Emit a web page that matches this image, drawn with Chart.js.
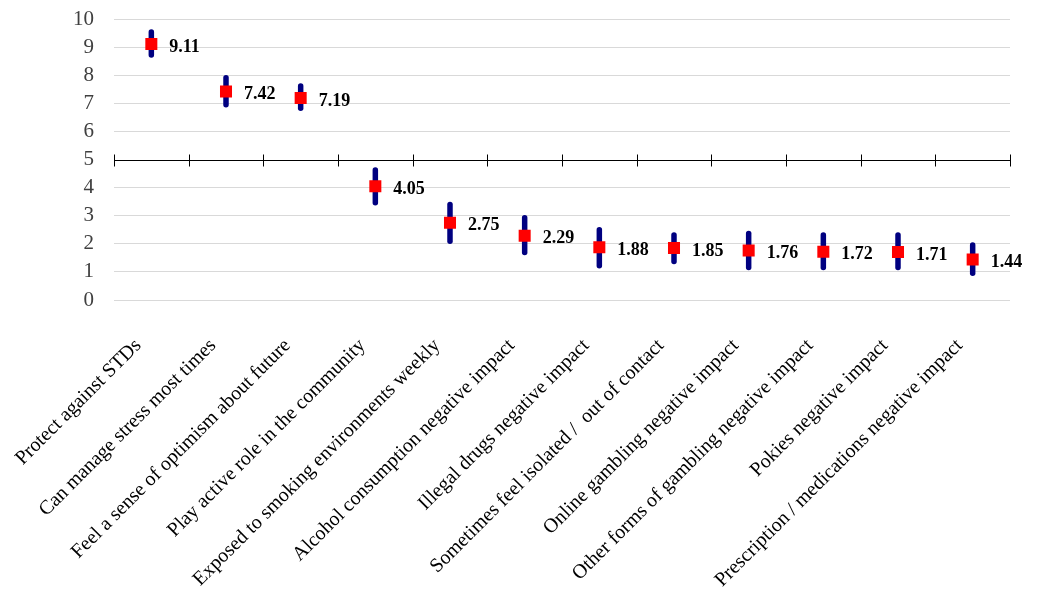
<!DOCTYPE html>
<html>
<head>
<meta charset="utf-8">
<script src="https://cdn.jsdelivr.net/npm/chart.js@4/dist/chart.umd.min.js"></script>
<style>
  html, body { margin: 0; padding: 0; background: #fff; }
  #wrap { width: 1042px; height: 598px; }
</style>
</head>
<body>
<div id="wrap"><canvas id="chart_scores"></canvas></div>
<script>
// categories and values
var categories = [
  'Protect against STDs',
  'Can manage stress most times',
  'Feel a sense of optimism about future',
  'Play active role in the community',
  'Exposed to smoking environments weekly',
  'Alcohol consumption negative impact',
  'Illegal drugs negative impact',
  'Sometimes feel isolated /  out of contact',
  'Online gambling negative impact',
  'Other forms of gambling negative impact',
  'Pokies negative impact',
  'Prescription / medications negative impact'
]
var means = [9.11, 7.42, 7.19, 4.05, 2.75, 2.29, 1.88, 1.85, 1.76, 1.72, 1.71, 1.44]
var lower = [8.72, 6.95, 6.82, 3.46, 2.09, 1.69, 1.22, 1.37, 1.16, 1.16, 1.16, 0.95]
var upper = [9.54, 7.91, 7.62, 4.63, 3.40, 2.93, 2.50, 2.31, 2.37, 2.31, 2.31, 1.96]
var yTicks = [0, 1, 2, 3, 4, 5, 6, 7, 8, 9, 10]
var midLine = 5

var serif = "'Liberation Serif', 'DejaVu Serif', serif"

// error bars under the squares, axis at 5 and value labels on top
var errorBars = {
  id: 'errorBars',
  beforeDatasetsDraw: function (chart) {
    var ctx = chart.ctx, x = chart.scales.x, y = chart.scales.y
    ctx.save()
    ctx.strokeStyle = '#000080'
    ctx.lineWidth = 5.5
    ctx.lineCap = 'round'
    means.forEach(function (m, i) {
      var px = x.getPixelForValue(i)
      ctx.beginPath()
      ctx.moveTo(px, y.getPixelForValue(lower[i]))
      ctx.lineTo(px, y.getPixelForValue(upper[i]))
      ctx.stroke()
    })
    ctx.restore()
  },
  afterDatasetsDraw: function (chart) {
    var ctx = chart.ctx, x = chart.scales.x, y = chart.scales.y
    ctx.save()
    var y5 = Math.round(y.getPixelForValue(midLine)) + 0.5
    ctx.strokeStyle = '#000'
    ctx.lineWidth = 1
    ctx.beginPath()
    ctx.moveTo(chart.chartArea.left, y5)
    ctx.lineTo(chart.chartArea.right, y5)
    for (var i = 0; i <= categories.length; i++) {
      var bx = Math.round(x.getPixelForValue(i - 0.5)) + 0.5
      ctx.moveTo(bx, y5 - 6)
      ctx.lineTo(bx, y5 + 6)
    }
    ctx.stroke()
    ctx.fillStyle = '#000'
    ctx.font = 'bold 18px ' + serif
    ctx.textAlign = 'left'
    ctx.textBaseline = 'middle'
    means.forEach(function (m, i) {
      ctx.fillText(m.toFixed(2), x.getPixelForValue(i) + 18, y.getPixelForValue(m) + 3)
    })
    ctx.restore()
  }
}

var chart_scores = document.getElementById('chart_scores').getContext('2d')

var mychart = new Chart(chart_scores, {
  type: 'line',
  data: {
    labels: categories,
    datasets: [{
      data: means,
      showLine: false,
      pointStyle: 'rect',
      pointRadius: 8.5,
      pointHoverRadius: 8.5,
      pointBackgroundColor: '#ff0000',
      pointBorderColor: '#ff0000',
      pointBorderWidth: 0
    }]
  },
  options: {
    responsive: true,
    maintainAspectRatio: false,
    animation: false,
    layout: { padding: { top: 19, right: 32, left: 0, bottom: 0 } },
    plugins: {
      legend: { display: false },
      tooltip: { enabled: false }
    },
    scales: {
      x: {
        offset: true,
        grid: { display: false },
        border: { display: false },
        ticks: {
          color: '#000',
          font: { family: serif, size: 20 },
          minRotation: 45,
          maxRotation: 45,
          autoSkip: false,
          padding: 26,
          labelOffset: -13
        },
        afterFit: function (scale) {
          scale.height = 298
          scale.paddingLeft = 0
          scale.paddingRight = 0
        }
      },
      y: {
        min: 0,
        max: 10,
        afterBuildTicks: function (scale) {
          scale.ticks = yTicks.map(function (v) { return { value: v } })
        },
        grid: {
          drawTicks: false,
          color: function (c) { return c.tick && c.tick.value === midLine ? 'rgba(0,0,0,0)' : '#d9d9d9' },
          lineWidth: 1
        },
        border: { display: false },
        ticks: {
          autoSkip: false,
          color: '#404040',
          font: { family: serif, size: 21 },
          padding: 20
        },
        afterFit: function (scale) {
          scale.width = 114
          scale.paddingTop = 0
          scale.paddingBottom = 0
        }
      }
    }
  },
  plugins: [errorBars]
})
</script>
</body>
</html>
